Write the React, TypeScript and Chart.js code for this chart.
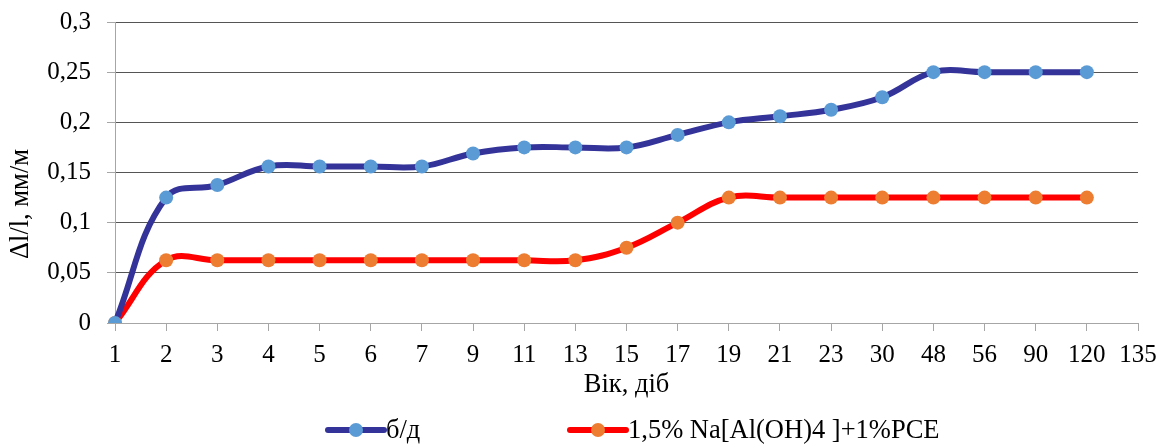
import React, { useEffect, useRef } from "react";
import { Chart, registerables } from "chart.js";

Chart.register(...registerables);

const categories = ["1", "2", "3", "4", "5", "6", "7", "9", "11", "13", "15", "17", "19", "21", "23", "30", "48", "56", "90", "120", "135"];
const seriesBD = [0, 0.125, 0.1375, 0.156, 0.156, 0.156, 0.156, 0.169, 0.175, 0.175, 0.175, 0.1875, 0.2, 0.206, 0.2125, 0.225, 0.25, 0.25, 0.25, 0.25, null];
const seriesNa = [0, 0.0625, 0.0625, 0.0625, 0.0625, 0.0625, 0.0625, 0.0625, 0.0625, 0.0625, 0.075, 0.1, 0.125, 0.125, 0.125, 0.125, 0.125, 0.125, 0.125, 0.125, null];
const seriesLabels = ["б/д", "1,5% Na[Al(OH)4 ]+1%PCE"];
const yTitle = "Δl/l, мм/м";
const xTitle = "Вік, діб";

const FONT = "'Liberation Serif', 'Times New Roman', serif";

const legendPlugin = {
  id: "customLegend",
  afterDraw(chart: any) {
    const ctx = chart.ctx;
    const y = 430;
    const starts = [328, 570];
    ctx.save();
    ctx.font = `26.5px ${FONT}`;
    ctx.textBaseline = "middle";
    ctx.textAlign = "left";
    chart.data.datasets.forEach((ds: any, i: number) => {
      const x0 = starts[i];
      const len = 56;
      ctx.strokeStyle = ds.borderColor;
      ctx.lineWidth = ds.borderWidth;
      ctx.lineCap = "round";
      ctx.beginPath();
      ctx.moveTo(x0, y);
      ctx.lineTo(x0 + len, y);
      ctx.stroke();
      ctx.fillStyle = ds.pointBackgroundColor;
      ctx.beginPath();
      ctx.arc(x0 + len / 2, y, ds.pointRadius, 0, Math.PI * 2);
      ctx.fill();
      ctx.fillStyle = "#000";
      ctx.fillText(ds.label, x0 + len + 2, y + 1);
    });
    // y-axis title
    ctx.translate(21, 204);
    ctx.rotate(-Math.PI / 2);
    ctx.textAlign = "center";
    ctx.fillText(yTitle, 0, 0);
    ctx.restore();
  },
};

export default function App() {
  const ref = useRef<HTMLCanvasElement | null>(null);
  useEffect(() => {
    if (!ref.current) return;
    const chart = new Chart(ref.current, {
      type: "line",
      data: {
        labels: categories,
        datasets: [
          {
            label: seriesLabels[0],
            data: seriesBD,
            borderColor: "#333399",
            backgroundColor: "#5B9BD5",
            pointBackgroundColor: "#5B9BD5",
            pointBorderWidth: 0,
            pointRadius: 7,
            borderWidth: 6,
            tension: 0.4,
          },
          {
            label: seriesLabels[1],
            data: seriesNa,
            borderColor: "#FF0000",
            backgroundColor: "#ED7D31",
            pointBackgroundColor: "#ED7D31",
            pointBorderWidth: 0,
            pointRadius: 7,
            borderWidth: 6,
            tension: 0.4,
          },
        ],
      },
      options: {
        animation: false,
        responsive: false,
        maintainAspectRatio: false,
        layout: { padding: { top: 22, right: 27, bottom: 41, left: 0 } },
        plugins: {
          legend: { display: false },
          tooltip: { enabled: false },
        },
        scales: {
          x: {
            offset: false,
            grid: {
              drawOnChartArea: false,
              drawTicks: true,
              tickLength: 8,
              color: "#a6a6a6",
            },
            border: { color: "#a6a6a6", width: 1 },
            ticks: {
              color: "#000",
              font: { family: FONT, size: 25 },
              padding: 9,
              maxRotation: 0,
              autoSkip: false,
            },
            title: {
              display: true,
              text: xTitle,
              color: "#000",
              font: { family: FONT, size: 26.5 },
              padding: { top: 0, bottom: 2 },
            },
            afterFit(scale: any) {
              scale.height = 80;
              scale.paddingLeft = 0;
              scale.paddingRight = 0;
            },
          },
          y: {
            min: 0,
            max: 0.3,
            grid: {
              color: "#555",
              tickColor: "#a6a6a6",
              tickLength: 8,
              drawTicks: true,
            },
            border: { color: "#a6a6a6", width: 1 },
            ticks: {
              stepSize: 0.05,
              color: "#000",
              font: { family: FONT, size: 25 },
              padding: 16,
              callback: (v: any) => {
                const n = Math.round(Number(v) * 100) / 100;
                return String(n).replace(".", ",");
              },
            },
            title: { display: false },
            afterFit(scale: any) {
              scale.width = 115;
              scale.paddingTop = 0;
              scale.paddingBottom = 0;
            },
          },
        },
      },
      plugins: [legendPlugin],
    });
    return () => chart.destroy();
  }, []);
  return (
    <div style={{ position: "absolute", left: 0, top: 0, width: 1165, height: 444, background: "#fff" }}>
      <canvas ref={ref} width={1165} height={444} style={{ width: 1165, height: 444 }} />
    </div>
  );
}
